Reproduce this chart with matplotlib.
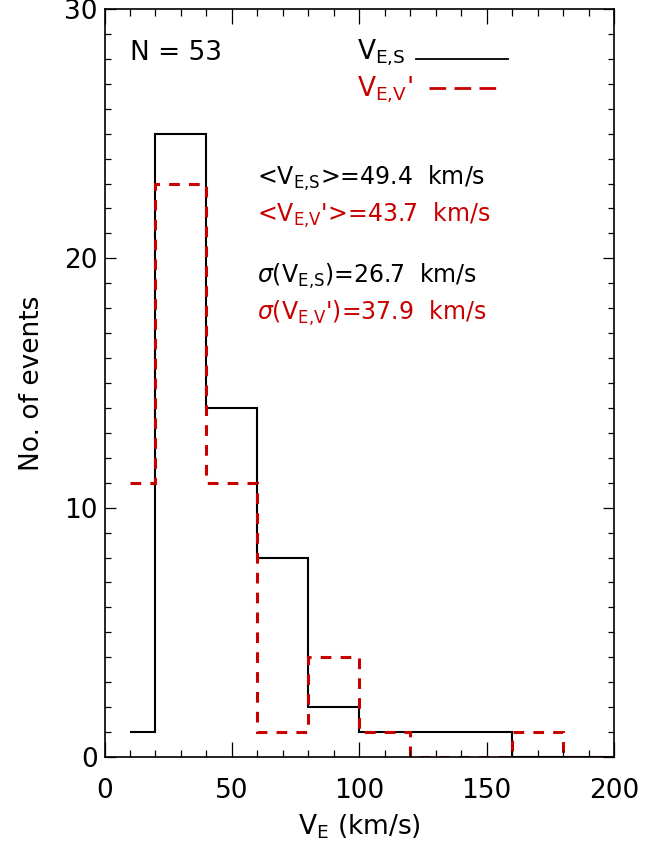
import matplotlib
matplotlib.use("Agg")
import matplotlib.pyplot as plt
from matplotlib.ticker import MultipleLocator

# Data
edges = [10, 20, 40, 60, 80, 100, 120, 140, 160, 180, 200]
counts_s = [1, 25, 14, 8, 2, 1, 1, 1, 0, 0]
counts_v = [11, 23, 11, 1, 4, 1, 0, 0, 1, 0]
n_events = 53
mean_s, mean_v = 49.4, 43.7
sig_s, sig_v = 26.7, 37.9

RED = '#C80000'
plt.rcParams['font.family'] = ['DejaVu Sans']
plt.rcParams['mathtext.fontset'] = 'dejavusans'

VS = r'$\mathregular{V_{E{,}S}}$'
VV = r"$\mathregular{V_{E{,}V}}$'"

fig = plt.figure(figsize=(6.52, 8.44), dpi=100)
ax = fig.add_axes([104.5/652, 1-757/844, 509.5/652, 748/844])

ax.stairs(counts_s, edges, baseline=None, color='black', lw=1.5)
ax.stairs(counts_v, edges, baseline=None, color=RED, lw=2.2,
          linestyle=(0, (3.5, 3)))

ax.set_xlim(0, 200)
ax.set_ylim(0, 30)
ax.xaxis.set_major_locator(MultipleLocator(50))
ax.xaxis.set_minor_locator(MultipleLocator(10))
ax.yaxis.set_major_locator(MultipleLocator(10))
ax.yaxis.set_minor_locator(MultipleLocator(1))
ax.tick_params(axis='both', which='both', direction='in', top=True, right=True,
               labelsize=19, width=0.9)
ax.tick_params(axis='x', which='major', length=10.8, pad=15)
ax.tick_params(axis='x', which='minor', length=5)
ax.tick_params(axis='y', which='major', length=8, pad=5)
ax.tick_params(axis='y', which='minor', length=4)
for s in ax.spines.values():
    s.set_linewidth(1.2)

ax.set_xlabel(r'$\mathregular{V_{E}}$ (km/s)', fontsize=19, labelpad=6)
ax.set_ylabel('No. of events', fontsize=19, labelpad=14)

ax.text(0.05, 0.932, f'N = {n_events}', transform=ax.transAxes, fontsize=19,
        va='baseline', ha='left')
ax.text(0.495, 0.932, VS, transform=ax.transAxes,
        fontsize=19, va='baseline', ha='left')
ax.plot([0.612, 0.792], [0.933, 0.933], transform=ax.transAxes, color='black', lw=1.3)
ax.text(0.495, 0.883, VV, transform=ax.transAxes,
        fontsize=19, va='baseline', ha='left', color=RED)
ax.plot([0.636, 0.782], [0.894, 0.894], transform=ax.transAxes, color=RED, lw=2,
        linestyle=(0, (6, 3)))

fs = 17
ax.text(0.299, 0.765, '<' + VS + f'>={mean_s}  km/s',
        transform=ax.transAxes, fontsize=fs, va='baseline')
ax.text(0.299, 0.715, '<' + VV + f'>={mean_v}  km/s',
        transform=ax.transAxes, fontsize=fs, va='baseline', color=RED)
ax.text(0.299, 0.634, r'$\sigma$(' + VS + f')={sig_s}  km/s',
        transform=ax.transAxes, fontsize=fs, va='baseline')
ax.text(0.299, 0.584, r'$\sigma$(' + VV + f')={sig_v}  km/s',
        transform=ax.transAxes, fontsize=fs, va='baseline', color=RED)

fig.savefig('out.png', dpi=100)
